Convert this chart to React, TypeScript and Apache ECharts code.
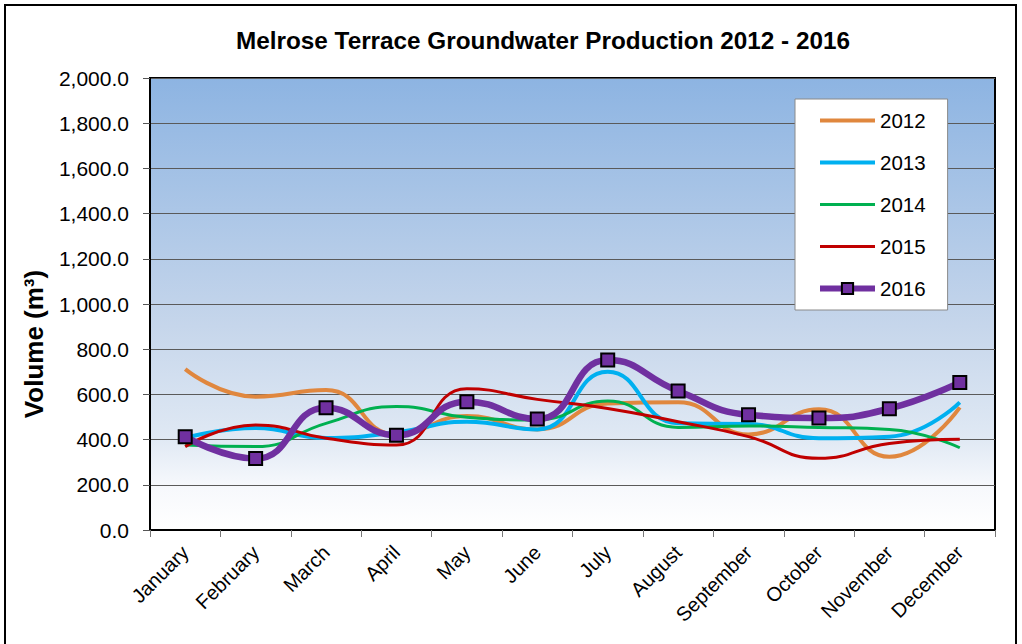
import React, { useEffect, useRef } from "react";
import * as echarts from "echarts";

const months = ["January", "February", "March", "April", "May", "June", "July", "August", "September", "October", "November", "December"];
const y2012 = [712, 590, 619, 423, 504, 445, 560, 565, 423, 534, 324, 543];
const y2013 = [407, 451, 407, 432, 479, 445, 700, 472, 469, 406, 413, 565];
const y2014 = [376, 369, 472, 546, 499, 487, 571, 454, 460, 454, 445, 364];
const y2015 = [369, 465, 406, 376, 625, 578, 538, 479, 413, 317, 383, 401];
const y2016 = [413, 316, 541, 419, 568, 491, 752, 615, 510, 496, 537, 653];

const FONT = "'Liberation Sans', Arial, sans-serif";

const lineIcon = (w: number) => `path://M0,0h55v${w}h-55z`;

export default function App() {
  const ref = useRef<HTMLDivElement>(null);
  useEffect(() => {
    if (!ref.current) return;
    const chart = echarts.init(ref.current, null, { renderer: "svg" });
    const lineSeries = (name: string, data: number[], color: string, width: number) => ({
      name,
      type: "line",
      data,
      smooth: 0.5,
      symbol: "none",
      lineStyle: { color, width },
      itemStyle: { color },
    });
    chart.setOption({
      animation: false,
      backgroundColor: "#ffffff",
      textStyle: { fontFamily: FONT },
      title: {
        text: "Melrose Terrace Groundwater Production 2012 - 2016",
        left: 538,
        top: 23,
        textAlign: "center",
        textStyle: { fontSize: 24.3, fontWeight: "bold", color: "#000", fontFamily: FONT },
      },
      graphic: [
        {
          type: "rect",
          shape: { x: 5, y: 5, width: 1011, height: 660 },
          style: { fill: "none", stroke: "#000", lineWidth: 2 },
          silent: true,
          z: -1,
        },
        {
          type: "text",
          x: 34,
          y: 344,
          rotation: Math.PI / 2,
          style: {
            text: "Volume (m³)",
            align: "center",
            verticalAlign: "middle",
            fill: "#000",
            font: `bold 26px ${FONT}`,
          },
        },
      ],
      legend: {
        orient: "vertical",
        left: 795,
        top: 99,
        padding: [11, 22, 11, 22],
        itemWidth: 55,
        itemHeight: 14,
        itemGap: 21,
        backgroundColor: "#ffffff",
        borderColor: "#8a8a8a",
        borderWidth: 1,
        textStyle: { fontSize: 20.5, color: "#000", fontFamily: FONT },
        data: [
          { name: "2012", icon: lineIcon(4) },
          { name: "2013", icon: lineIcon(4) },
          { name: "2014", icon: lineIcon(3) },
          { name: "2015", icon: lineIcon(3) },
          { name: "2016", lineStyle: { width: 6 } },
        ],
      },
      grid: {
        left: 150,
        right: 27,
        top: 78,
        bottom: 114,
        show: true,
        borderColor: "#000",
        borderWidth: 2,
        backgroundColor: {
          type: "linear",
          x: 0,
          y: 0,
          x2: 0,
          y2: 1,
          colorStops: [
            { offset: 0, color: "#8DB4E2" },
            { offset: 0.55, color: "#C6D6EB" },
            { offset: 0.8, color: "#E0E9F4" },
            { offset: 0.9, color: "#F6F8FC" },
            { offset: 1, color: "#FFFFFF" },
          ],
        },
      },
      xAxis: {
        type: "category",
        data: months,
        boundaryGap: true,
        axisLine: { lineStyle: { color: "#000", width: 2 } },
        axisTick: { show: true, length: 7, inside: false, lineStyle: { color: "#777", width: 1 } },
        axisLabel: { rotate: 45, fontSize: 20, color: "#000", margin: 19, interval: 0, fontFamily: FONT },
        splitLine: { show: false },
      },
      yAxis: {
        type: "value",
        min: 0,
        max: 2000,
        interval: 200,
        axisLine: { show: true, lineStyle: { color: "#000", width: 2 } },
        axisTick: { show: true, length: 7, inside: false, lineStyle: { color: "#555", width: 1 } },
        axisLabel: {
          fontSize: 21,
          color: "#000",
          margin: 21,
          fontFamily: FONT,
          formatter: (v: number) =>
            v.toLocaleString("en-US", { minimumFractionDigits: 1, maximumFractionDigits: 1 }),
        },
        splitLine: { show: true, lineStyle: { color: "#5a5a5a", width: 1 } },
      },
      series: [
        lineSeries("2012", y2012, "#E0873E", 4),
        lineSeries("2013", y2013, "#00B0F0", 4),
        lineSeries("2014", y2014, "#00B050", 3),
        lineSeries("2015", y2015, "#C00000", 3),
        {
          name: "2016",
          type: "line",
          data: y2016,
          smooth: 0.5,
          symbol: "rect",
          symbolSize: 13,
          lineStyle: { color: "#7030A0", width: 6.5 },
          itemStyle: { color: "#7030A0", borderColor: "#000", borderWidth: 2 },
        },
      ],
    });
    return () => chart.dispose();
  }, []);
  return (
    <div
      ref={ref}
      style={{ position: "absolute", left: 0, top: 0, width: 1022, height: 644 }}
    />
  );
}
